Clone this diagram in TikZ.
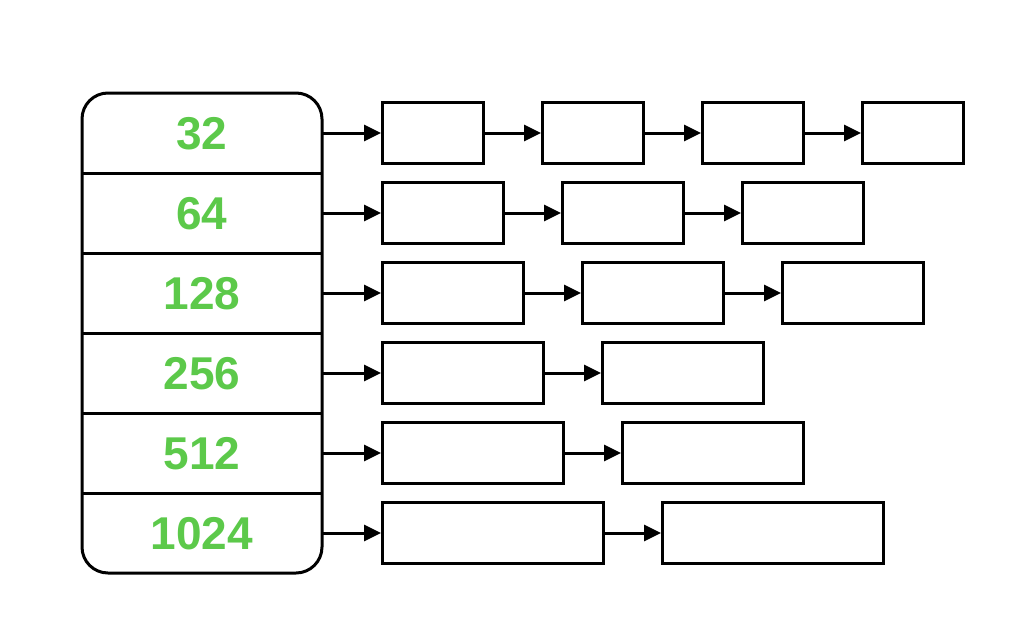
\documentclass[tikz,border=0pt]{standalone}
\usepackage{fontspec}
\setmainfont{Liberation Sans}
\usetikzlibrary{arrows.meta}
\definecolor{lbl}{HTML}{5CC94A}
\begin{document}
\begin{tikzpicture}[x=1pt,y=-1pt,
  blk/.style={draw,line width=3pt,minimum height=61pt,inner sep=0pt},
  arr/.style={-{Triangle[length=17pt,width=16pt]},line width=3pt},
  num/.style={text=lbl,font=\bfseries\fontsize{46}{46}\selectfont}]
\useasboundingbox (0,0) rectangle (1026,622);
\draw[line width=3pt,rounded corners=26pt] (82,93) rectangle (322,573);
\foreach \y in {173,253,333,413,493} \draw[line width=3pt] (82,\y) -- (322,\y);
\foreach \t [count=\k from 0] in {32,64,128,256,512,1024}
  \node[num] (L\k) at (202,134+80*\k) {\t};
\foreach \k/\w/\n in {0/101/4,1/121/3,2/141/3,3/161/2,4/181/2,5/221/2}{
  \coordinate (S\k) at (322,133+80*\k);
  \foreach \i in {1,...,\n}{
    \node[blk,minimum width=\w pt,anchor=west] (B\k-\i) at ({381+(\w+59)*(\i-1)},133+80*\k) {};
  }
  \draw[arr] (S\k) -- (B\k-1.west);
  \ifnum\n>1
  \foreach \i [evaluate=\i as \j using int(\i-1)] in {2,...,\n}
    \draw[arr] (B\k-\j.east) -- (B\k-\i.west);
  \fi
}
\end{tikzpicture}
\end{document}
